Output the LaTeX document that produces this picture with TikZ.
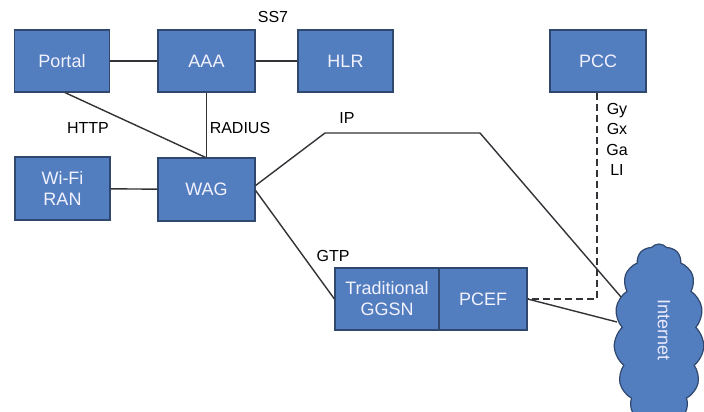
\documentclass[tikz,border=0pt]{standalone}
\usepackage{fontspec}
\setmainfont{Liberation Sans}
\usetikzlibrary{shapes.symbols,calc}
\definecolor{boxfill}{RGB}{82,125,190}
\definecolor{boxline}{RGB}{48,72,110}
\definecolor{wire}{RGB}{50,50,55}
\begin{document}
\begin{tikzpicture}[x=1pt,y=-1pt,
  netbox/.style={draw=boxline,line width=1.2pt,fill=boxfill,text=white!95!blue,
    minimum height=62pt,inner sep=0pt,align=center,
    font=\fontsize{18}{21}\selectfont},
  lbl/.style={font=\fontsize{16}{20.5}\selectfont,text=black,inner sep=0pt,align=center},
  wirestyle/.style={draw=wire,line width=1.4pt}]
\useasboundingbox (0,0) rectangle (704,412);
\begin{scope}
\clip (0,0) rectangle (704,412);
\node[cloud,cloud ignores aspect,cloud puffs=15,cloud puff arc=100,draw=boxline,line width=1.2pt,fill=boxfill,
  minimum width=90pt,minimum height=186pt,inner sep=0pt] (cloud) at (659,337) {};
\end{scope}
\node[rotate=-90,text=white!92!blue,font=\fontsize{18}{21}\selectfont] (inet) at (664,330) {Internet};

\node[netbox,minimum width=95pt] (portal) at (62,61) {Portal};
\node[netbox,minimum width=97pt] (aaa) at (206.5,61) {AAA};
\node[netbox,minimum width=95pt] (hlr) at (345.5,61) {HLR};
\node[netbox,minimum width=96pt] (pcc) at (598,61) {PCC};
\node[netbox,minimum width=95pt,minimum height=63pt] (wifi) at (62.5,188.5) {Wi-Fi\\RAN};
\node[netbox,minimum width=97pt,minimum height=63pt] (wag) at (206.5,189.5) {WAG};
\node[netbox,minimum width=104pt] (ggsn) at (387,299) {Traditional\\GGSN};
\node[netbox,minimum width=88pt] (pcef) at (483,299) {PCEF};

\coordinate (ip1) at (325,133);
\coordinate (ip2) at (480,133);
\coordinate (ipend) at (621,297);
\coordinate (pcefend) at (617,322);

\draw[wirestyle] (portal) -- (aaa);
\draw[wirestyle] (aaa) -- (hlr);
\draw[wirestyle] ($(portal.south)+(3,0)$) -- ($(wag.north)+(-1,0)$);
\draw[wirestyle] (aaa.south) -- (wag.north);
\draw[wirestyle] (wifi) -- (wag);
\draw[wirestyle] ($(wag.east)+(0,-4)$) -- (ip1) -- (ip2) -- (ipend);
\draw[wirestyle] ($(wag.east)+(0,1)$) -- (ggsn.west);
\draw[wirestyle] (pcef.east) -- (pcefend);
\draw[wirestyle,dashed,dash pattern=on 7pt off 4pt] ($(pcc.south)+(-1,0)$) |- (pcef.east);

\node[lbl] (ss7) at (273,17) {SS7};
\node[lbl] (http) at (88,128) {HTTP};
\node[lbl] (radius) at (240,128) {RADIUS};
\node[lbl] (ip) at (347,118) {IP};
\node[lbl] (gtp) at (333,256) {GTP};
\node[lbl,anchor=north] (gy) at (617,103) {Gy\\Gx\\Ga\\LI};
\end{tikzpicture}
\end{document}
